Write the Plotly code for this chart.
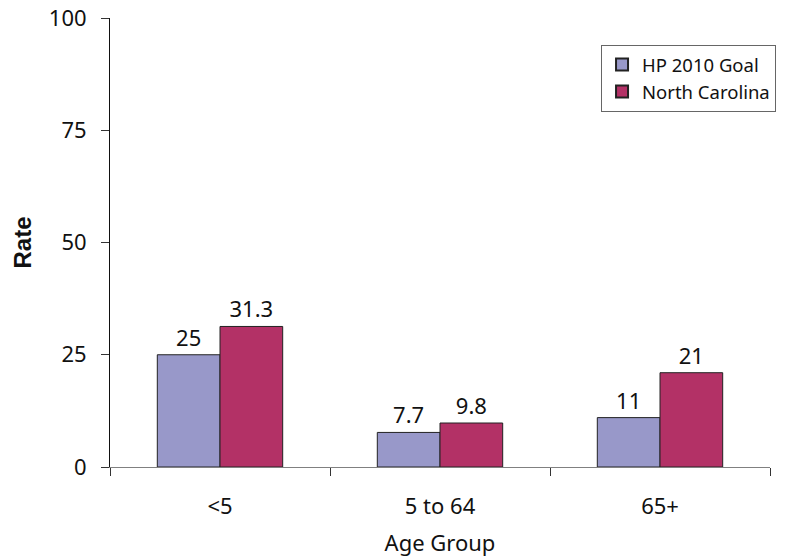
import plotly.graph_objects as go

categories = ["<5", "5 to 64", "65+"]
hp_goal = [25, 7.7, 11]
north_carolina = [31.3, 9.8, 21]
hp_labels = ["25", "7.7", "11"]
nc_labels = ["31.3", "9.8", "21"]

FONT = "Noto Sans, Open Sans, sans-serif"

fig = go.Figure()
fig.add_trace(go.Bar(
    name="HP 2010 Goal", x=categories, y=hp_goal,
    text=hp_labels, textposition="outside", cliponaxis=False,
    marker=dict(color="#9898C9", line=dict(color="#222222", width=1)),
    textfont=dict(size=22, color="#111111", family=FONT),
))
fig.add_trace(go.Bar(
    name="North Carolina", x=categories, y=north_carolina,
    text=nc_labels, textposition="outside", cliponaxis=False,
    marker=dict(color="#B33166", line=dict(color="#222222", width=1)),
    textfont=dict(size=22, color="#111111", family=FONT),
))

fig.update_layout(
    width=801, height=559,
    margin=dict(l=110, r=31, t=18, b=92, autoexpand=False),
    plot_bgcolor="white", paper_bgcolor="white",
    barmode="group", bargap=0.43, bargroupgap=0,
    font=dict(family=FONT, size=22, color="#111111"),
    showlegend=True,
    legend=dict(
        x=0.744, y=0.94, xanchor="left", yanchor="top",
        bordercolor="#666666", borderwidth=1,
        font=dict(size=18.5, family=FONT, color="#111111"),
        tracegroupgap=0, itemsizing="constant", itemwidth=30,
    ),
    xaxis=dict(
        showline=True, linecolor="#808080", linewidth=1,
        ticks="outside", tickson="boundaries", ticklen=8, tickcolor="#333333",
        ticklabelstandoff=20,
        title=dict(text="Age Group", font=dict(size=22, family=FONT), standoff=16),
        tickfont=dict(size=22, family=FONT),
        showgrid=False,
    ),
    yaxis=dict(
        range=[0, 100], tickvals=[0, 25, 50, 75, 100],
        showline=True, linecolor="#111111", linewidth=1,
        ticks="outside", ticklen=8, tickcolor="#333333",
        ticklabelstandoff=10,
        showgrid=False, zeroline=False,
        title=dict(text="<b>Rate</b>", font=dict(size=24, family="Liberation Sans, Arial, sans-serif"), standoff=10),
        tickfont=dict(size=22, family=FONT),
    ),
)

fig.write_html("out.html", config={"displayModeBar": False},
               post_script="document.body.style.margin='0';")
